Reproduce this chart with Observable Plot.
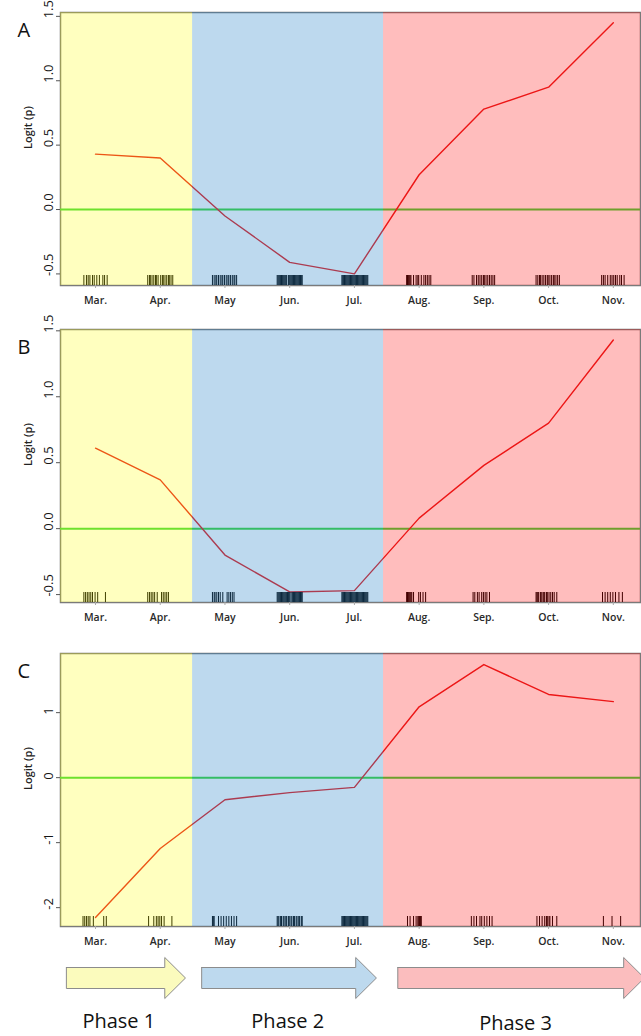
<!DOCTYPE html>
<html><head><meta charset="utf-8">
<script src="https://cdn.jsdelivr.net/npm/d3@7"></script>
<script src="https://cdn.jsdelivr.net/npm/@observablehq/plot@0.6"></script>
<style>
body{margin:0;background:#fff}
#chart{position:relative;width:641px;height:1036px;font-family:"Open Sans",sans-serif}
.p{position:absolute;left:0}
</style>
</head><body><div id="chart"></div>
<script>
// ---- data ----
const months = ["Mar.","Apr.","May","Jun.","Jul.","Aug.","Sep.","Oct.","Nov."];
const monthNum = [3,4,5,6,7,8,9,10,11];
const logitA = [0.43, 0.40, -0.05, -0.41, -0.50, 0.27, 0.78, 0.95, 1.45];
const logitB = [0.61, 0.37, -0.20, -0.48, -0.47, 0.08, 0.48, 0.80, 1.43];
const logitC = [-2.15, -1.09, -0.34, -0.23, -0.15, 1.09, 1.74, 1.28, 1.17];

// rug: observation day-of-month, one list per month (Mar..Nov)
const rugDaysA = [
  [2,5,7,9,12,14,17,20,24,26,29],
  [1,3,4,6,8,10,11,13,16,18,19,21,23,25,26,28,30],
  [1,3,5,6,8,10,12,13,15,17,19,20,22,24,26,27,29],
  [1,2,3,4,5,6,7,8,9,10,11,12,14,15,16,17,18,19,20,21,22,23,24,25,26,27,28,29,30],
  [1,2,3,4,5,6,7,8,9,10,11,12,13,14,15,16,17,18,19,20,21,22,23,24,25,26,27,28,29,30,31],
  [1,2,3,4,5,6,9,12,14,15,18,21,23,25,27,29],
  [2,4,7,9,11,13,15,16,18,20,22,24,26,28],
  [1,3,5,6,8,10,12,14,15,17,19,21,22,24,26,28],
  [2,4,6,9,12,14,16,18,20,23,25,28]
];
const rugDaysB = [
  [2,4,6,8,10,12,15,18,27],
  [1,3,5,7,9,12,17,19,21,23,25],
  [1,3,4,6,8,10,13,18,20,22,24,26],
  [1,2,3,4,5,6,7,8,9,10,11,12,13,14,15,16,18,19,20,21,22,23,24,25,26,27,28,29,30],
  [1,2,3,4,5,6,7,8,9,10,11,12,13,14,15,16,17,18,19,20,21,22,23,24,25,26,27,28,29,30,31],
  [1,2,3,4,5,6,7,9,15,17,20,23],
  [3,5,8,10,13,15,17,19,22],
  [1,2,3,4,6,7,9,10,11,13,14,16,18,20,22,25],
  [3,6,9,12,15,18,22,26]
];
const rugDaysC = [
  [1,3,5,7,9,13,25,28],
  [2,8,11,13,15,17,20,29],
  [1,2,3,8,11,14,17,20,23,26,29],
  [1,2,3,5,6,8,9,11,12,14,15,17,18,20,21,23,24,26,27,29,30],
  [1,2,3,4,5,6,7,8,9,10,11,12,13,14,15,16,17,18,19,20,21,22,23,24,25,26,27,28,29,30,31],
  [2,5,9,12,14,15,16,17,18],
  [1,4,7,11,13,16,19,22,25],
  [2,5,8,11,13,14,16,17,20,25],
  [4,14,24]
];

const phaseNames = ["Phase 1","Phase 2","Phase 3"];
const phaseBounds = [2.459, 4.5, 7.45, 11.42];
const arrowStart = [2.55, 4.64, 7.67];
const arrowEnd = [4.39, 7.34, 11.48];
const phaseLabelX = [3.36, 5.97, 9.49];

// ---- styles ----
const overlayColor = ["rgb(255,255,0)","rgb(35,128,198)","rgb(255,0,0)"];
const overlayOpacity = [0.25, 0.30, 0.26];
const arrowFill = ["#fbfbbd","#bdd9ee","#fbbdbe"];
const font = '"Open Sans", sans-serif';
const xDomain = [phaseBounds[0], phaseBounds[3]];

function panel(letter, values, rugDays, yDomain, yTicks, fmt) {
  const pts = monthNum.map((m, i) => ({m, v: values[i]}));
  const rug = rugDays.flatMap((days, i) => days.map(d => monthNum[i] + (d - 15.5) / 75));
  return Plot.plot({
    width: 641, height: 310, marginTop: 12, marginBottom: 25, marginLeft: 60, marginRight: 1,
    x: {domain: xDomain},
    y: {domain: yDomain},
    style: {fontFamily: font, background: "transparent", color: "#222", overflow: "visible"},
    marks: [
      Plot.frame({stroke: "#7a7a7a", strokeWidth: 1.5}),
      Plot.ruleY([0], {stroke: "rgb(60,215,60)", strokeWidth: 2}),
      Plot.line(pts, {x: "m", y: "v", stroke: "rgb(230,30,30)", strokeWidth: 1.4}),
      Plot.ruleX(rug, {x: d => d, insetTop: 263, stroke: "black", strokeWidth: 1}),
      ...phaseNames.map((n, i) => Plot.rect([n], {
        x1: () => phaseBounds[i], x2: () => phaseBounds[i + 1],
        y1: () => yDomain[0], y2: () => yDomain[1],
        fill: overlayColor[i], fillOpacity: overlayOpacity[i]
      })),
      Plot.axisX({ticks: monthNum, tickFormat: m => months[m - 3], tickSize: 3, tickPadding: 8,
        fontSize: 10.5, fontWeight: 600, stroke: "#aaa", fill: "#2a2a2a", label: null}),
      Plot.axisY({ticks: yTicks, tickSize: 4, tickFormat: () => "", stroke: "#555", label: null}),
      Plot.text(yTicks, {y: d => d, text: fmt, frameAnchor: "left", dx: -12, dy: 2, rotate: -90, fontSize: 13, fontWeight: 500, fill: "#151515"}),
      Plot.text(["Logit (p)"], {frameAnchor: "left", dx: -32, rotate: -90, fontSize: 11, fontWeight: 600, fill: "#222"}),
      Plot.text([letter], {frameAnchor: "top-left", dx: -43, dy: 10, fontSize: 20, fill: "#111"})
    ]
  });
}

const fmt1 = d => d.toFixed(1).replace("−", "-");
const fmt0 = d => String(d);

const chart = document.getElementById("chart");
function place(svg, top) {
  const div = document.createElement("div");
  div.className = "p";
  div.style.top = top + "px";
  div.appendChild(svg);
  chart.appendChild(div);
}

place(panel("A", logitA, rugDaysA, [-0.59, 1.53], [-0.5, 0, 0.5, 1, 1.5], fmt1), 0);
place(panel("B", logitB, rugDaysB, [-0.56, 1.51], [-0.5, 0, 0.5, 1, 1.5], fmt1), 317);
place(panel("C", logitC, rugDaysC, [-2.29, 1.91], [-2, -1, 0, 1], fmt0), 641);

// arrows
const H = 0.32; // head length (months)
function arrowPts(i) {
  const s = arrowStart[i], e = arrowEnd[i];
  return [
    {x: s, y: 22}, {x: e - H, y: 22}, {x: e - H, y: 12}, {x: e, y: 32.5},
    {x: e - H, y: 53}, {x: e - H, y: 43}, {x: s, y: 43}, {x: s, y: 22}
  ];
}
const arrows = Plot.plot({
  width: 641, height: 91, marginTop: 0, marginBottom: 0, marginLeft: 60, marginRight: 1,
  x: {domain: xDomain, axis: null},
  y: {domain: [0, 91], range: [0, 91], axis: null},
  style: {fontFamily: font, background: "transparent", overflow: "visible"},
  marks: [
    ...phaseNames.map((n, i) => Plot.line(arrowPts(i), {x: "x", y: "y", fill: arrowFill[i], stroke: "#8c8c8c", strokeWidth: 1})),
    Plot.text(phaseNames, {x: (d, i) => phaseLabelX[i], y: (d, i) => (i === 2 ? 78 : 76), text: d => d, fontSize: 20, fill: "#111"})
  ]
});
place(arrows, 945);
</script>
</body></html>
